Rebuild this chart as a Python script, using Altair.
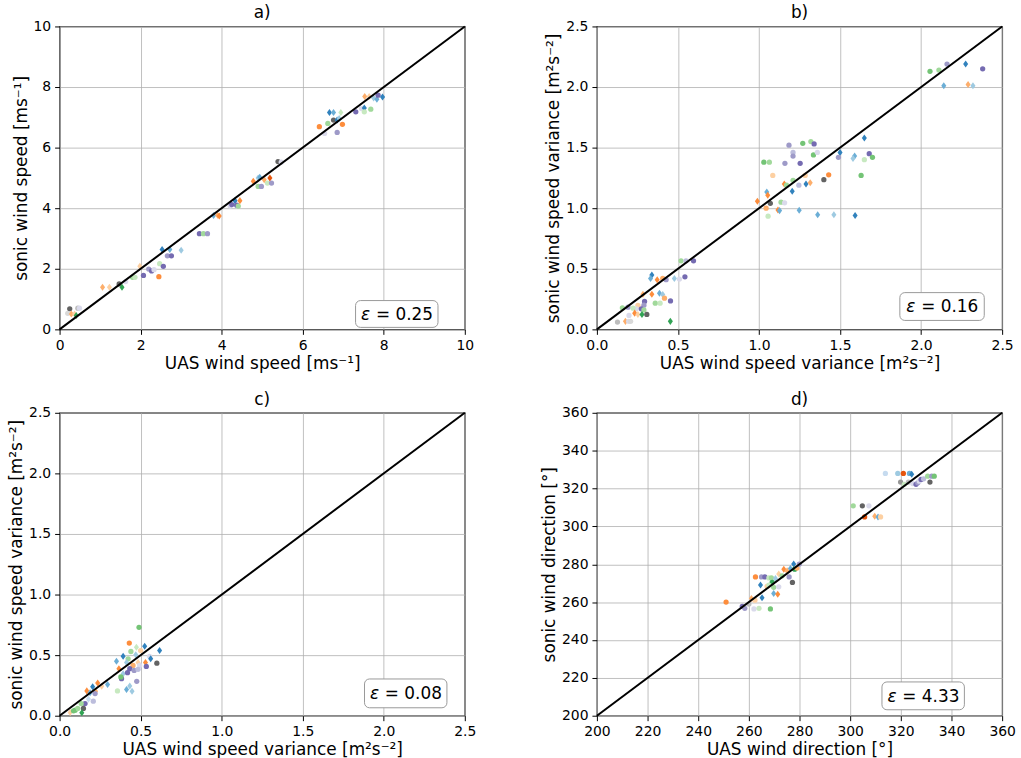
import altair as alt
import pandas as pd

FONT = "DejaVu Sans"
TAB20C = ["#3182bd", "#6baed6", "#9ecae1", "#c6dbef", "#e6550d", "#fd8d3c", "#fdae6b", "#fdd0a2",
          "#31a354", "#74c476", "#a1d99b", "#c7e9c0", "#756bb1", "#9e9ac8", "#bcbddc", "#dadaeb",
          "#636363", "#969696", "#bdbdbd", "#d9d9d9"]
THIN_DIAMOND = "M0,-1L0.72,0L0,1L-0.72,0Z"

# ---------------- panel a: wind speed ----------------
a_uas = [0.25, 0.20, 0.29, 0.37, 0.45, 0.49, 0.41, 1.06, 1.23, 1.47, 1.54, 1.63, 1.80, 1.86, 1.98,
         2.07, 2.20, 2.27, 2.33, 2.45, 2.47, 2.56, 2.53, 2.72, 2.66, 2.76, 3.00, 3.45, 3.55, 3.65,
         3.80, 3.90, 3.94, 4.21, 4.25, 4.33, 4.37, 4.41, 4.45, 4.78, 4.90, 4.98, 4.90, 4.94, 5.05,
         5.13, 5.19, 5.23, 5.39, 5.47, 6.41, 6.54, 6.62, 6.66, 6.76, 6.94, 6.76, 6.85, 6.90, 6.98,
         6.85, 7.31, 7.45, 7.52, 7.52, 7.68, 7.53, 7.64, 7.75, 7.83, 7.86, 7.97]
a_sonic = [0.68, 0.53, 0.51, 0.51, 0.70, 0.70, 0.46, 1.39, 1.39, 1.50, 1.39, 1.58, 1.72, 1.72, 2.08,
           1.78, 1.99, 1.93, 1.97, 1.74, 2.17, 2.08, 2.64, 2.64, 2.43, 2.43, 2.61, 3.16, 3.16, 3.16,
           3.76, 3.77, 3.74, 4.07, 4.12, 4.25, 4.10, 4.07, 4.25, 4.89, 4.72, 4.72, 5.00, 5.02, 4.94,
           4.83, 5.00, 4.83, 5.54, 5.52, 6.69, 6.47, 6.80, 7.16, 7.16, 7.16, 6.91, 6.91, 6.96, 6.77,
           6.50, 7.18, 7.29, 7.31, 7.18, 7.27, 7.69, 7.69, 7.64, 7.60, 7.73, 7.67]
a_color = [16, 19, 6, 7, 18, 15, 8, 6, 7, 16, 8, 15, 10, 11, 7,
           12, 13, 12, 15, 5, 11, 12, 0, 1, 13, 12, 2, 12, 10, 13,
           1, 6, 5, 15, 12, 0, 12, 10, 5, 5, 10, 13, 2, 1, 6,
           11, 4, 13, 16, 15, 5, 15, 10, 0, 1, 11, 16, 0, 2, 5,
           13, 12, 15, 0, 11, 10, 6, 7, 2, 1, 12, 0]
a_marker = ["o", "o", "d", "d", "o", "o", "d", "d", "d", "o", "d", "o", "o", "o", "d",
            "o", "o", "o", "o", "o", "o", "o", "d", "d", "o", "o", "d", "o", "o", "o",
            "d", "d", "d", "o", "o", "d", "o", "o", "d", "d", "o", "o", "d", "d", "d",
            "o", "d", "o", "o", "o", "o", "o", "o", "d", "d", "d", "o", "d", "d", "o",
            "o", "o", "o", "d", "o", "o", "d", "d", "d", "d", "o", "d"]

# ---------------- panel b: wind speed variance ----------------
b_uas = [2.055, 2.11, 2.16, 2.275, 2.38, 2.14, 2.29, 2.32,
         1.185, 1.27, 1.32, 1.34, 1.21, 1.21, 1.336, 1.36, 1.65, 1.50, 1.49, 1.68, 1.59, 1.58,
         1.65, 1.70, 1.03, 1.064, 1.16, 1.254, 1.085, 1.285, 1.40, 1.43, 1.63, 1.156, 1.17, 1.21,
         1.246, 1.29, 1.316, 1.205, 1.048, 1.054, 0.99, 1.07, 1.044, 1.117, 1.127, 1.136, 1.158,
         1.056, 1.248, 1.362, 1.462, 1.593,
         0.519, 0.55, 0.596, 0.339, 0.331, 0.372, 0.406, 0.427, 0.478, 0.509, 0.543, 0.284, 0.339,
         0.386, 0.406, 0.417, 0.454, 0.36, 0.39, 0.294, 0.29, 0.253, 0.243, 0.157, 0.192, 0.223,
         0.274, 0.29, 0.233, 0.253, 0.278, 0.308, 0.198, 0.127, 0.176, 0.196, 0.208, 0.453]
b_sonic = [2.13, 2.14, 2.19, 2.19, 2.15, 2.01, 2.02, 2.01,
           1.52, 1.535, 1.55, 1.53, 1.46, 1.43, 1.44, 1.46, 1.58, 1.46, 1.42, 1.45, 1.43, 1.41,
           1.40, 1.42, 1.38, 1.38, 1.37, 1.37, 1.27, 1.27, 1.235, 1.276, 1.27, 1.20, 1.19, 1.23,
           1.19, 1.20, 1.21, 1.14, 1.134, 1.107, 1.057, 1.04, 1.00, 0.986, 0.98, 1.05, 1.044,
           0.934, 0.984, 0.945, 0.945, 0.94,
           0.566, 0.566, 0.566, 0.448, 0.42, 0.41, 0.42, 0.41, 0.42, 0.415, 0.434, 0.29, 0.29,
           0.298, 0.287, 0.257, 0.235, 0.216, 0.216, 0.23, 0.20, 0.197, 0.17, 0.178, 0.183, 0.175,
           0.17, 0.16, 0.134, 0.123, 0.123, 0.123, 0.115, 0.06, 0.066, 0.066, 0.066, 0.066]
b_color = [9, 10, 13, 0, 12, 1, 6, 2,
           13, 9, 10, 12, 14, 13, 9, 15, 0, 0, 13, 12, 1, 2,
           11, 9, 9, 10, 13, 12, 7, 7, 16, 5, 9, 5, 10, 10,
           14, 0, 6, 0, 1, 5, 5, 16, 6, 5, 1, 10, 15,
           11, 1, 1, 2, 0,
           10, 14, 12, 0, 1, 5, 6, 13, 2, 15, 12, 6, 5,
           1, 2, 6, 12, 10, 11, 12, 13, 7, 15, 10, 13, 11,
           12, 10, 5, 7, 8, 16, 15, 18, 6, 15, 19, 8]
b_marker = ["o", "o", "o", "d", "o", "d", "d", "d",
            "o", "o", "o", "o", "o", "o", "o", "o", "d", "d", "o", "o", "d", "d",
            "o", "o", "o", "o", "o", "o", "o", "o", "o", "o", "o", "d", "o", "o",
            "o", "d", "d", "d", "d", "d", "d", "o", "o", "d", "d", "o", "o",
            "o", "d", "d", "d", "d",
            "o", "o", "o", "d", "d", "d", "o", "o", "d", "o", "o", "d", "d",
            "d", "d", "o", "o", "o", "o", "o", "o", "o", "o", "o", "o", "o",
            "o", "o", "d", "d", "d", "o", "o", "o", "d", "o", "o", "d"]

# ---------------- panel c: wind speed variance ----------------
c_uas = [0.49, 0.43, 0.474, 0.525, 0.617, 0.44, 0.50, 0.47, 0.555, 0.562, 0.60, 0.53, 0.392,
         0.351, 0.423, 0.413, 0.484, 0.453, 0.494, 0.366, 0.433, 0.46, 0.484, 0.535, 0.392,
         0.419, 0.382, 0.378, 0.476, 0.357, 0.413, 0.433, 0.447, 0.296, 0.235, 0.204, 0.26,
         0.168, 0.222, 0.188, 0.219, 0.157, 0.208, 0.178, 0.133, 0.147, 0.096, 0.112, 0.137,
         0.065, 0.086]
c_sonic = [0.73, 0.60, 0.566, 0.574, 0.538, 0.53, 0.538, 0.503, 0.49, 0.47, 0.434, 0.44, 0.49,
           0.45, 0.47, 0.44, 0.44, 0.415, 0.415, 0.388, 0.388, 0.374, 0.383, 0.407, 0.347,
           0.355, 0.306, 0.32, 0.284, 0.205, 0.216, 0.246, 0.202, 0.257, 0.27, 0.24, 0.243,
           0.205, 0.202, 0.19, 0.183, 0.10, 0.12, 0.137, 0.10, 0.06, 0.046, 0.06, 0.025,
           0.027, 0.04]
c_color = [9, 5, 11, 0, 0, 10, 7, 2, 15, 0, 16, 5, 0,
           1, 10, 2, 7, 6, 15, 5, 12, 13, 14, 12, 2,
           12, 12, 9, 13, 11, 1, 2, 2, 1, 5, 0, 7,
           5, 6, 1, 13, 12, 14, 3, 10, 16, 9, 10, 8,
           7, 9]
c_marker = ["o", "o", "d", "d", "d", "o", "o", "d", "o", "d", "o", "d", "d",
            "d", "o", "d", "d", "o", "o", "d", "o", "o", "o", "o", "d",
            "o", "o", "o", "o", "o", "d", "d", "d", "d", "d", "d", "d",
            "d", "d", "d", "o", "o", "o", "d", "o", "o", "o", "o", "d",
            "d", "o"]

# ---------------- panel d: wind direction ----------------
d_uas = [251.0, 257.4, 258.4, 260.0, 262.0, 264.0, 261.0, 262.4, 265.2, 268.5, 269.8, 271.4,
         262.6, 265.0, 266.3, 267.9, 268.9, 264.6, 267.2, 269.8, 271.8, 269.2, 270.5, 267.9,
         271.8, 273.8, 275.1, 273.1, 276.4, 277.7, 278.1, 279.0, 279.9, 275.9, 277.2,
         301.2, 304.8, 307.4, 305.7, 309.7, 311.0, 312.0, 313.9, 318.8, 321.0, 323.4, 324.3,
         319.9, 321.4, 323.0, 324.7, 326.0, 326.7, 327.3, 328.0, 329.0, 330.6, 331.5, 332.2, 333.2]
d_sonic = [260.0, 257.7, 256.7, 259.0, 256.4, 256.7, 261.9, 261.0, 262.3, 256.4, 264.5, 264.2,
           273.3, 273.3, 273.3, 272.8, 272.8, 269.0, 268.3, 267.8, 268.1, 270.4, 272.5, 269.0,
           274.8, 277.4, 276.5, 273.9, 277.8, 280.1, 277.4, 278.0, 280.1, 273.3, 270.4,
           310.9, 310.9, 310.9, 305.0, 305.4, 305.0, 305.0, 328.0, 328.0, 328.0, 328.0, 327.5,
           323.4, 322.2, 323.4, 322.6, 322.2, 323.0, 323.9, 324.8, 325.1, 326.5, 323.4, 326.5, 326.5]
d_color = [5, 12, 13, 18, 15, 11, 6, 7, 0, 9, 1, 5,
           5, 13, 12, 11, 10, 0, 7, 10, 15, 8, 2, 11,
           7, 5, 6, 10, 1, 0, 8, 6, 13, 13, 16,
           10, 16, 15, 4, 6, 1, 7, 3, 2, 4, 1, 0,
           17, 11, 18, 15, 12, 13, 15, 12, 14, 10, 16, 13, 9]
d_marker = ["o", "o", "o", "o", "o", "o", "d", "o", "d", "o", "d", "d",
            "o", "o", "o", "o", "o", "d", "o", "o", "o", "o", "d", "o",
            "d", "d", "d", "o", "d", "d", "o", "o", "o", "o", "o",
            "o", "o", "o", "o", "d", "d", "o", "o", "o", "o", "o", "d",
            "o", "o", "o", "o", "o", "o", "o", "o", "o", "o", "o", "o", "o"]

ticks_speed = [0, 2, 4, 6, 8, 10]
ticks_var = [0.0, 0.5, 1.0, 1.5, 2.0, 2.5]
ticks_dir = [200, 220, 240, 260, 280, 300, 320, 340, 360]
err_symbol = "ε"
err_values = ["0.25", "0.16", "0.08", "4.33"]
titles = ["a)", "b)", "c)", "d)"]

W, H = 408, 305


def panel(xs, ys, cs, ms, dom, ticks, fmt, xtitle, ytitle, title, err, box):
    df = pd.DataFrame({"uas": xs, "sonic": ys, "c": cs, "m": ms})
    xsc = alt.Scale(domain=dom, nice=False, zero=False)
    ysc = alt.Scale(domain=dom, nice=False, zero=False)
    xax = alt.Axis(values=ticks, format=fmt, title=xtitle)
    yax = alt.Axis(values=ticks, format=fmt, title=ytitle)

    pts = alt.Chart(df).mark_point(filled=True, opacity=1, strokeWidth=0).encode(
        x=alt.X("uas:Q", scale=xsc, axis=xax),
        y=alt.Y("sonic:Q", scale=ysc, axis=yax),
        color=alt.Color("c:O", scale=alt.Scale(domain=list(range(20)), range=TAB20C), legend=None),
        shape=alt.Shape("m:N", scale=alt.Scale(domain=["o", "d"], range=["circle", THIN_DIAMOND]), legend=None),
        size=alt.Size("m:N", scale=alt.Scale(domain=["o", "d"], range=[28, 50]), legend=None),
        order=alt.Order("idx:Q"),
    ).transform_window(idx="row_number()")

    line_df = pd.DataFrame({"uas": dom, "sonic": dom})
    line = alt.Chart(line_df).mark_line(color="black", strokeWidth=2).encode(
        x=alt.X("uas:Q", scale=xsc, axis=xax),
        y=alt.Y("sonic:Q", scale=ysc, axis=yax),
    )

    x0, x1, y0, y1 = box
    xs0 = (x0 + x1) / 2 - 36
    ym = (y0 + y1) / 2 + 1
    lab_df = pd.DataFrame({"sym": [err_symbol], "val": ["= " + err]})
    rect = alt.Chart(lab_df).mark_rect(fill="white", stroke="#999999", strokeWidth=1,
                                       cornerRadius=5).encode(
        x=alt.value(x0), x2=alt.value(x1), y=alt.value(y0), y2=alt.value(y1))
    sym = alt.Chart(lab_df).mark_text(font=FONT, fontSize=17, fontStyle="italic", color="black",
                                      align="left", baseline="middle").encode(
        x=alt.value(xs0), y=alt.value(ym), text="sym:N")
    val = alt.Chart(lab_df).mark_text(font=FONT, fontSize=17, color="black",
                                      align="left", baseline="middle").encode(
        x=alt.value(xs0 + 15), y=alt.value(ym), text="val:N")

    return alt.layer(pts, line, rect, sym, val).properties(
        width=W, height=H,
        title=alt.TitleParams(title, font=FONT, fontSize=17, fontWeight="normal",
                              color="black", offset=-3, frame="group"))


pa = panel(a_uas, a_sonic, a_color, a_marker, [0, 10], ticks_speed, "d",
           "UAS wind speed [ms⁻¹]", "sonic wind speed [ms⁻¹]", titles[0], err_values[0],
           (298, 381, 276, 303))
pb = panel(b_uas, b_sonic, b_color, b_marker, [0, 2.5], ticks_var, ".1f",
           "UAS wind speed variance [m²s⁻²]", "sonic wind speed variance [m²s⁻²]", titles[1], err_values[1],
           (305, 390, 268, 296))
pc = panel(c_uas, c_sonic, c_color, c_marker, [0, 2.5], ticks_var, ".1f",
           "UAS wind speed variance [m²s⁻²]", "sonic wind speed variance [m²s⁻²]", titles[2], err_values[2],
           (307, 390, 268, 297))
pd_ = panel(d_uas, d_sonic, d_color, d_marker, [200, 360], ticks_dir, "d",
            "UAS wind direction [°]", "sonic wind direction [°]", titles[3], err_values[3],
            (287, 370, 271, 299))

chart = alt.concat(pa, pb, pc, pd_, columns=2, spacing={"row": 84, "column": 133},
                   bounds="flush").properties(
    padding={"left": 7, "top": 1, "right": 5, "bottom": 5},
    background="white",
).configure_axis(
    domain=False, grid=True, gridColor="#b0b0b0", gridWidth=0.8,
    tickColor="black", tickSize=5, tickWidth=1,
    labelFont=FONT, labelFontSize=14, labelColor="black", labelPadding=4,
    titleFont=FONT, titleFontSize=17, titleFontWeight="normal", titleColor="black",
    titlePadding=3, labelFlush=False, labelOverlap=False,
).configure_view(stroke="black", strokeWidth=1.2)

chart.save("out.html", embed_options={"renderer": "svg", "actions": False})
